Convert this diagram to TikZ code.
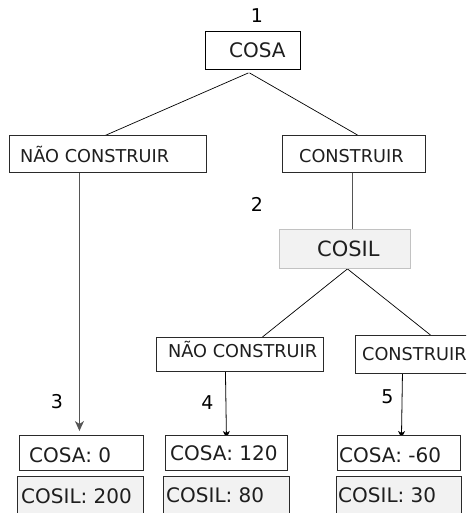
\documentclass[tikz,border=0pt]{standalone}
\usepackage{fontspec}
\setmainfont{DejaVu Sans}
\usetikzlibrary{arrows.meta,backgrounds}

\definecolor{ink}{HTML}{1E1E1E}
\definecolor{panel}{HTML}{F2F2F2}
\definecolor{rimlight}{HTML}{C2C2C2}
\definecolor{rimdark}{HTML}{2A2A2A}
\definecolor{wire}{HTML}{555555}

\tikzset{
  frame/.style={draw=rimdark, line width=0.9pt, fill=white, inner sep=0pt, anchor=north west},
  shaded/.style={frame, fill=panel},
  softframe/.style={frame, draw=rimlight, fill=panel},
  txt/.style={inner sep=0pt, anchor=west, text=ink, text depth=0pt},
  big/.style={txt, text height=14.6pt, font=\fontsize{20}{24}\selectfont},
  mid/.style={txt, text height=12.9pt, font=\fontsize{17.7}{21}\selectfont},
  num/.style={inner sep=0pt, text=black, text height=13.9pt, text depth=0pt, font=\fontsize{19}{23}\selectfont},
  link/.style={line width=0.7pt, draw=black},
  greylink/.style={line width=0.8pt, draw=wire},
  tipbig/.style={-{Stealth[length=10pt, width=9pt, inset=3pt]}},
  tipsmall/.style={-{Stealth[length=7pt, width=7pt, inset=2pt]}},
}

\begin{document}
\begin{tikzpicture}[x=1pt, y=-1pt]
  \useasboundingbox (0,0) rectangle (466,513);
  \clip (0,0) rectangle (466,513);

  % root decision
  \node[frame, draw=black, minimum width=95pt, minimum height=38pt] (cosa) at (205,31) {};
  \node[big] (cosaT) at (229,50) {COSA};
  \node[num] (n1) at (257,16) {1};

  % first branch
  \node[frame, minimum width=197pt, minimum height=37pt] (nc1) at (9,135) {};
  \node[mid] (nc1T) at (20,156) {NÃO CONSTRUIR};
  \node[frame, minimum width=143pt, minimum height=37pt] (c1) at (282,135) {};
  \node[mid] (c1T) at (299,156) {CONSTRUIR};

  % second decision
  \node[num] (n2) at (257,205) {2};
  \node[softframe, minimum width=131pt, minimum height=39pt] (cosil) at (279,229) {};
  \node[txt, text height=15.3pt, font=\fontsize{21}{25}\selectfont] (cosilT) at (317,249) {COSIL};

  \node[frame, minimum width=167pt, minimum height=34pt] (nc2) at (156,337) {};
  \node[mid] (nc2T) at (168,351) {NÃO CONSTRUIR};
  \node[frame, minimum width=120pt, minimum height=38pt] (c2) at (355,335) {};
  \node[mid] (c2T) at (362,354) {CONSTRUIR};

  % outcomes
  \node[num] (n3) at (57,402) {3};
  \node[num] (n4) at (207.5,402.5) {4};
  \node[num] (n5) at (387.5,396.5) {5};

  \node[frame, minimum width=124pt, minimum height=35pt] (l1) at (19,435) {};
  \node[big] (l1T) at (29,455) {COSA: 0};
  \node[shaded, minimum width=126pt, minimum height=45pt] (m1) at (17,476) {};
  \node[big] (m1T) at (21,496) {COSIL: 200};

  \node[frame, minimum width=122pt, minimum height=35pt] (l2) at (165,435) {};
  \node[big] (l2T) at (170,453) {COSA: 120};
  \node[shaded, minimum width=126pt, minimum height=45pt] (m2) at (163,476) {};
  \node[big] (m2T) at (166,495) {COSIL: 80};

  \node[frame, minimum width=123pt, minimum height=35pt] (l3) at (337,435) {};
  \node[big] (l3T) at (339,455) {COSA: -60};
  \node[shaded, minimum width=125pt, minimum height=45pt] (m3) at (336,476) {};
  \node[big] (m3T) at (338,495) {COSIL: 30};

  % connectors, kept behind the boxes
  \begin{pgfonlayer}{background}
    \draw[link] ([xshift=-4.5pt, yshift=-3pt]cosa.south) -- ([xshift=-4pt, yshift=-1pt]nc1.north);
    \draw[link] ([xshift=-3.5pt, yshift=-3pt]cosa.south) -- ([xshift=3.5pt]c1.north);
    \draw[greylink] ([xshift=-1.5pt]c1.south) -- ([xshift=7.5pt]cosil.north);
    \draw[link] ([xshift=2.5pt]cosil.south) -- ([xshift=22.5pt]nc2.north);
    \draw[link] ([xshift=2.5pt]cosil.south) -- ([xshift=15pt]c2.north);
    \draw[greylink, line width=0.9pt, tipbig] ([xshift=-28.5pt]nc1.south) -- ([xshift=-2pt, yshift=4pt]l1.north);
    \draw[link, line width=0.8pt, tipsmall] ([xshift=-14.5pt]nc2.south) -- ([yshift=-3pt]l2.north);
    \draw[link, line width=0.8pt, tipsmall] ([xshift=-13pt]c2.south) -- ([xshift=2.5pt, yshift=-3pt]l3.north);
  \end{pgfonlayer}
\end{tikzpicture}
\end{document}
